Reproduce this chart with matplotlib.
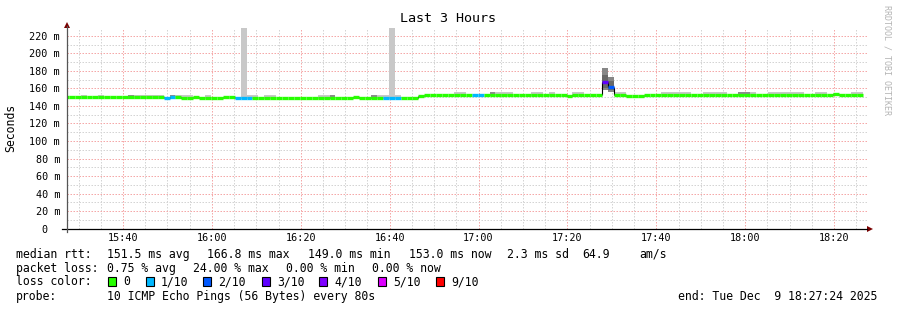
import numpy as np
import matplotlib
matplotlib.use('Agg')
import matplotlib.pyplot as plt
from matplotlib.patches import Rectangle

MONO = 'DejaVu Sans Mono'
W, H = 897, 310

# time frame (minutes since midnight)
view_start = 15 * 60 + 27 + 24 / 60     # 15:27:24
view_end = 18 * 60 + 27 + 24 / 60       # 18:27:24
first_step = 15 * 60 + 26 + 28 / 60     # start of first 80 s step
step_min = 80 / 60

# median rtt per 80 s step (ms)
median = [
    150.3, 150.3, 150.2, 149.7, 149.8, 149.7, 149.7, 149.8, 149.7, 149.7,
    149.7, 149.8, 149.7, 149.7, 149.7, 149.8, 150.0, 149.3, 150.3, 150.0,
    149.0, 149.0, 150.0, 149.3, 149.3, 149.4, 149.3, 150.4, 150.4, 149.4,
    149.4, 149.4, 149.6, 149.6, 149.6, 149.6, 149.6, 149.6, 149.6, 149.6,
    149.6, 149.6, 149.6, 149.6, 149.6, 149.6, 149.6, 149.6, 149.6, 150.6,
    149.6, 149.6, 149.6, 149.6, 149.5, 149.5, 149.5, 149.6, 149.6, 149.6,
    151.8, 152.9, 152.9, 152.9, 152.9, 152.9, 152.9, 152.9, 152.9, 152.9,
    152.9, 152.9, 152.9, 152.9, 152.9, 152.9, 152.9, 152.9, 152.9, 152.9,
    152.9, 152.9, 152.9, 152.9, 152.9, 151.6, 152.9, 152.9, 152.9, 152.9,
    152.9, 166.8, 162.2, 152.9, 152.9, 151.8, 151.8, 151.8, 153.0, 153.0,
    153.0, 153.0, 153.0, 153.0, 153.0, 153.0, 153.0, 153.0, 153.0, 153.0,
    153.0, 153.0, 153.0, 153.0, 153.0, 153.0, 153.0, 153.0, 153.0, 153.0,
    153.0, 153.0, 153.0, 153.0, 153.0, 153.0, 153.0, 153.0, 153.0, 153.0,
    153.6, 153.0, 153.0, 153.0, 153.0,
]

# lost pings out of 10 per step
loss = [
    0, 0, 0, 0, 0, 0, 0, 0, 0, 0,
    0, 0, 0, 0, 0, 0, 0, 1, 1, 0,
    0, 0, 0, 0, 0, 0, 0, 0, 0, 1,
    1, 1, 0, 0, 0, 0, 0, 0, 0, 0,
    0, 0, 0, 0, 0, 0, 0, 0, 0, 0,
    0, 0, 0, 0, 1, 1, 1, 0, 0, 0,
    0, 0, 0, 0, 0, 0, 0, 0, 0, 1,
    1, 0, 0, 0, 0, 0, 0, 0, 0, 0,
    0, 0, 0, 0, 0, 0, 0, 0, 0, 0,
    0, 3, 2, 0, 0, 0, 0, 0, 0, 0,
    0, 0, 0, 0, 0, 0, 0, 0, 0, 0,
    0, 0, 0, 0, 0, 0, 0, 0, 0, 0,
    0, 0, 0, 0, 0, 0, 0, 0, 0, 0,
    0, 0, 0, 0, 0,
]

# visible smoke (ping spread): step index, low, high, shade
smoke_idx = [3, 6, 11, 12, 13, 14, 15, 16, 18, 19, 20, 21, 24, 30, 31, 32, 34, 35,
             43, 44, 45, 52, 53, 54, 55, 56,
             66, 67, 72, 73, 74, 75, 79, 80, 82, 86, 87, 91, 91, 92, 92, 93, 94,
             101, 102, 103, 104, 105, 108, 109, 110, 111, 114, 115, 116,
             119, 120, 121, 122, 123, 124, 127, 128, 130, 133, 134]
smoke_lo = [148.3, 148.3, 148.3, 148.3, 148.3, 148.3, 148.3, 148.3, 148.3, 148.3, 148.3, 148.3, 148.3, 148.3, 148.3, 148.3, 148.3, 148.3,
            148.3, 148.3, 148.3, 148.3, 148.3, 148.3, 148.3, 148.3,
            151.3, 151.3, 151.3, 151.3, 151.3, 151.3, 151.3, 151.3, 151.3, 151.3, 151.3, 158.0, 160.5, 156.5, 158.0, 151.3, 151.3,
            151.3, 151.3, 151.3, 151.3, 151.3, 151.3, 151.3, 151.3, 151.3, 151.3, 151.3, 151.3,
            151.3, 151.3, 151.3, 151.3, 151.3, 151.3, 151.3, 151.3, 151.0, 151.3, 151.3]
smoke_hi = [152.7, 152.7, 152.7, 152.7, 152.7, 152.7, 152.7, 152.7, 152.7, 152.7, 152.7, 152.7, 152.7, 232.0, 152.7, 152.7, 152.7, 152.7,
            152.7, 152.7, 152.7, 152.7, 152.7, 152.7, 232.0, 152.7,
            155.8, 155.8, 155.8, 155.8, 155.8, 155.8, 155.8, 155.8, 155.8, 155.8, 155.8, 183.5, 175.0, 173.0, 169.0, 155.8, 155.8,
            155.8, 155.8, 155.8, 155.8, 155.8, 155.8, 155.8, 155.8, 155.8, 155.8, 155.8, 155.8,
            155.8, 155.8, 155.8, 155.8, 155.8, 155.8, 155.8, 155.8, 155.3, 155.8, 155.8]
smoke_shade = ['l', 'l', 'd', 'l', 'l', 'l', 'l', 'l', 'd', 'l', 'l', 'l', 'l', 'l', 'l', 'l', 'l', 'l',
               'l', 'l', 'd', 'd', 'l', 'l', 'l', 'l',
               'l', 'l', 'd', 'l', 'l', 'l', 'l', 'l', 'l', 'l', 'l', 'm', 'k', 'm', 'k', 'l', 'l',
               'l', 'l', 'l', 'l', 'l', 'l', 'l', 'l', 'l', 'd', 'd', 'l',
               'l', 'l', 'l', 'l', 'l', 'l', 'l', 'l', 'l', 'l', 'l']
shade_colors = {'l': '#c8c8c8', 'd': '#8c8c8c', 'm': '#878787', 'k': '#686868'}

loss_colors = {0: '#26ff00', 1: '#00b8ff', 2: '#0059ff', 3: '#5e00ff',
               4: '#7e00ff', 5: '#dd00ff', 9: '#ff0000'}
legend_loss = [0, 1, 2, 3, 4, 5, 9]
legend_labels = ['0', '1/10', '2/10', '3/10', '4/10', '5/10', '9/10']

time_labels = ['15:40', '16:00', '16:20', '16:40', '17:00', '17:20', '17:40', '18:00', '18:20']
y_major = [0, 20, 40, 60, 80, 100, 120, 140, 160, 180, 200, 220]

fig = plt.figure(figsize=(W / 100, H / 100), dpi=100)
ax = fig.add_axes([67 / W, (H - 228.6) / H, 800 / W, 200.6 / H])
ax.set_xlim(view_start, view_end)
ax.set_ylim(0, 229)

# grid
xt = [int(s[:2]) * 60 + int(s[3:]) for s in time_labels]
ax.set_xticks(xt)
ax.set_xticklabels(time_labels)
ax.set_xticks(np.arange(930, view_end, 5), minor=True)
ax.set_yticks(y_major)
ax.set_yticklabels([f'{v} m' if v else '0  ' for v in y_major])
ax.set_yticks(np.arange(10, 229, 10), minor=True)
ax.grid(which='minor', color='#d4d4d4', lw=0.72, ls=(0, (1.5, 1.5)), zorder=0)
ax.grid(which='major', color='#f5a8a8', lw=0.72, ls=(0, (1.5, 1.5)), zorder=0)
ax.set_axisbelow(True)
for s in ax.spines.values():
    s.set_visible(False)
ax.tick_params(which='both', length=0)
ax.tick_params(axis='x', pad=3.5)
ax.tick_params(axis='y', pad=5)
for lab in ax.get_xticklabels() + ax.get_yticklabels():
    lab.set_fontfamily(MONO)
    lab.set_fontsize(7.3)

# smoke
for j, lo, hi, sh in zip(smoke_idx, smoke_lo, smoke_hi, smoke_shade):
    ax.bar(first_step + j * step_min, hi - lo, bottom=lo, width=step_min,
           align='edge', color=shade_colors[sh], lw=0, zorder=2)

# median line, coloured by loss
starts = first_step + np.arange(len(median)) * step_min
ax.vlines(starts[1:], median[:-1], median[1:], colors='black', lw=0.8, zorder=3)
ax.hlines(median, starts, starts + step_min, colors=[loss_colors[l] for l in loss],
          lw=2.4, zorder=4, capstyle='butt')

# axes lines and arrows
ax.plot([-0.006, 1.0], [0, 0], color='black', lw=0.9, transform=ax.transAxes, clip_on=False, zorder=5)
ax.plot([0, 0], [-0.015, 1.01], color='#555555', lw=0.9, transform=ax.transAxes, clip_on=False, zorder=5)
ax.plot([1.004], [0], marker='>', ms=4, color='#7a0000', mew=0, transform=ax.transAxes, clip_on=False)
ax.plot([0], [1.017], marker='^', ms=4, color='#7a0000', mew=0, transform=ax.transAxes, clip_on=False)

def ftext(x, y, s, **kw):
    kw.setdefault('family', MONO)
    kw.setdefault('fontsize', 8.3)
    kw.setdefault('va', 'center')
    fig.text(x / W, 1 - y / H, s, **kw)

ftext(448, 19, 'Last 3 Hours', ha='center', fontsize=9.6)
ftext(11, 128, 'Seconds', ha='center', rotation=90)
ftext(887, 60, 'RRDTOOL / TOBI OETIKER', ha='center', rotation=270, fontsize=6, color='#b4b4b4')

row1 = [(16, 'median rtt:'), (107, '151.5 ms avg'), (207, '166.8 ms max'), (308, '149.0 ms min'),
        (409, '153.0 ms now'), (507, '2.3 ms sd'), (582, '64.9'), (639, 'am/s')]
row2 = [(16, 'packet loss:'), (107, '0.75 % avg'), (193, '24.00 % max'), (286, '0.00 % min'), (372, '0.00 % now')]
row4 = [(16, 'probe:'), (107, '10 ICMP Echo Pings (56 Bytes) every 80s'), (678, 'end: Tue Dec  9 18:27:24 2025')]
for x, s in row1:
    ftext(x, 254.3, s)
for x, s in row2:
    ftext(x, 268.3, s)
for x, s in row4:
    ftext(x, 296.7, s)

ftext(16, 281.7, 'loss color:')
swatch_x = [108, 146, 203, 262, 319, 378, 436]
for x, l, lab in zip(swatch_x, legend_loss, legend_labels):
    fig.patches.append(Rectangle((x / W, 1 - 286 / H), 8 / W, 8.7 / H, transform=fig.transFigure,
                                 facecolor=loss_colors[l], edgecolor='black', lw=0.8))
    ftext(x + 15, 281.7, lab)

fig.savefig('out.png', dpi=100, facecolor='white')
